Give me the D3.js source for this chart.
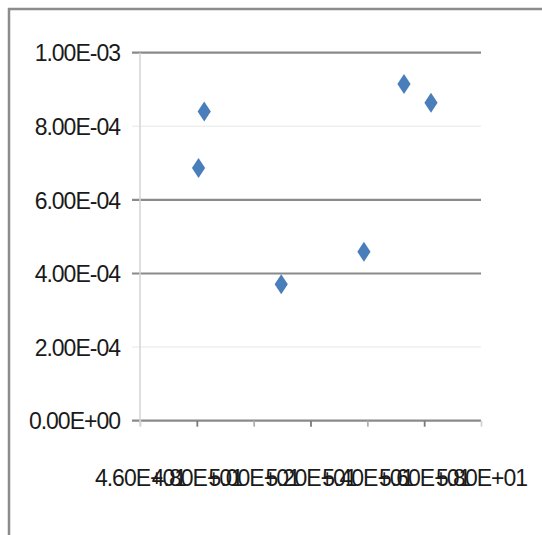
<!DOCTYPE html>
<html>
<head>
<meta charset="utf-8">
<script src="https://cdn.jsdelivr.net/npm/d3@7"></script>
<style>
  html, body { margin: 0; padding: 0; background: #fff; }
  svg { display: block; }
  text { font-family: "Liberation Sans", Arial, sans-serif; fill: #1a1a1a; }
</style>
</head>
<body>
<div id="chart"></div>
<script>
// Measurements: x values and the matching y values
const xValues = [48.06, 48.26, 50.97, 53.88, 55.29, 56.24];
const yValues = [6.87e-4, 8.40e-4, 3.71e-4, 4.59e-4, 9.15e-4, 8.64e-4];

// Axis tick values and their labels
const xTicks = [46, 48, 50, 52, 54, 56, 58];
const xTickLabels = ["4.60E+01", "4.80E+01", "5.00E+01", "5.20E+01", "5.40E+01", "5.60E+01", "5.80E+01"];
const yTicks = [0, 2e-4, 4e-4, 6e-4, 8e-4, 1e-3];
const yTickLabels = ["0.00E+00", "2.00E-04", "4.00E-04", "6.00E-04", "8.00E-04", "1.00E-03"];

const W = 542, H = 535;
const plot = { left: 140, right: 481, top: 52.7, bottom: 420.7 };

const svg = d3.select("#chart").append("svg")
  .attr("width", W).attr("height", H);

// chart frame
svg.append("rect")
  .attr("x", 9).attr("y", 9)
  .attr("width", W + 20).attr("height", H + 20)
  .attr("fill", "#fff")
  .attr("stroke", "#8c8c8c").attr("stroke-width", 2.5);

const x = d3.scaleLinear().domain([46, 58]).range([plot.left, plot.right]);
const y = d3.scaleLinear().domain([0, 1e-3]).range([plot.bottom, plot.top]);

// horizontal gridlines (some render faint)
const faint = new Set([2e-4, 8e-4]);
const grid = svg.append("g");
yTicks.forEach(v => {
  const isFaint = faint.has(v);
  grid.append("line")
    .attr("x1", plot.left - 8).attr("x2", plot.right)
    .attr("y1", y(v)).attr("y2", y(v))
    .attr("stroke", isFaint ? "#efefef" : "#8a8a8a")
    .attr("stroke-width", isFaint ? 1.5 : 2.2);
});

// vertical value axis line
svg.append("line")
  .attr("x1", plot.left).attr("x2", plot.left)
  .attr("y1", plot.top).attr("y2", plot.bottom + 5)
  .attr("stroke", "#d4d4d4").attr("stroke-width", 1.5);

// y axis labels
const yAxis = d3.axisLeft(y)
  .tickValues(yTicks)
  .tickSize(0)
  .tickPadding(20)
  .tickFormat((d, i) => yTickLabels[i]);
const gy = svg.append("g")
  .attr("transform", `translate(${plot.left},0)`)
  .call(yAxis);
gy.select(".domain").remove();
gy.selectAll("text")
  .attr("font-size", 23)
  .attr("letter-spacing", "-1px")
  .attr("dy", "0.36em");

// x axis ticks and labels
const xAxis = d3.axisBottom(x)
  .tickValues(xTicks)
  .tickSize(6)
  .tickPadding(59)
  .tickFormat((d, i) => xTickLabels[i]);
const gx = svg.append("g")
  .attr("transform", `translate(0,${plot.bottom})`)
  .call(xAxis);
gx.select(".domain").remove();
gx.selectAll(".tick line")
  .attr("stroke", (d, i) => (i === 0 || i === 6) ? "#d4d4d4" : (i % 2 === 1 ? "#7a7a7a" : "#b0b0b0"))
  .attr("stroke-width", 1.8);
gx.selectAll("text")
  .attr("font-size", 23)
  .attr("letter-spacing", "-1px")
  .attr("dy", "0");

// diamond markers
const diamond = {
  draw(ctx, size) {
    const hw = 6.6, hh = 10;
    ctx.moveTo(0, -hh);
    ctx.lineTo(hw, 0);
    ctx.lineTo(0, hh);
    ctx.lineTo(-hw, 0);
    ctx.closePath();
  }
};
const pts = xValues.map((v, i) => ({ x: v, y: yValues[i] }));
svg.append("g").selectAll("path")
  .data(pts)
  .join("path")
  .attr("d", d3.symbol().type(diamond))
  .attr("transform", d => `translate(${x(d.x)},${y(d.y)})`)
  .attr("fill", "#4a7ebb");
</script>
</body>
</html>
